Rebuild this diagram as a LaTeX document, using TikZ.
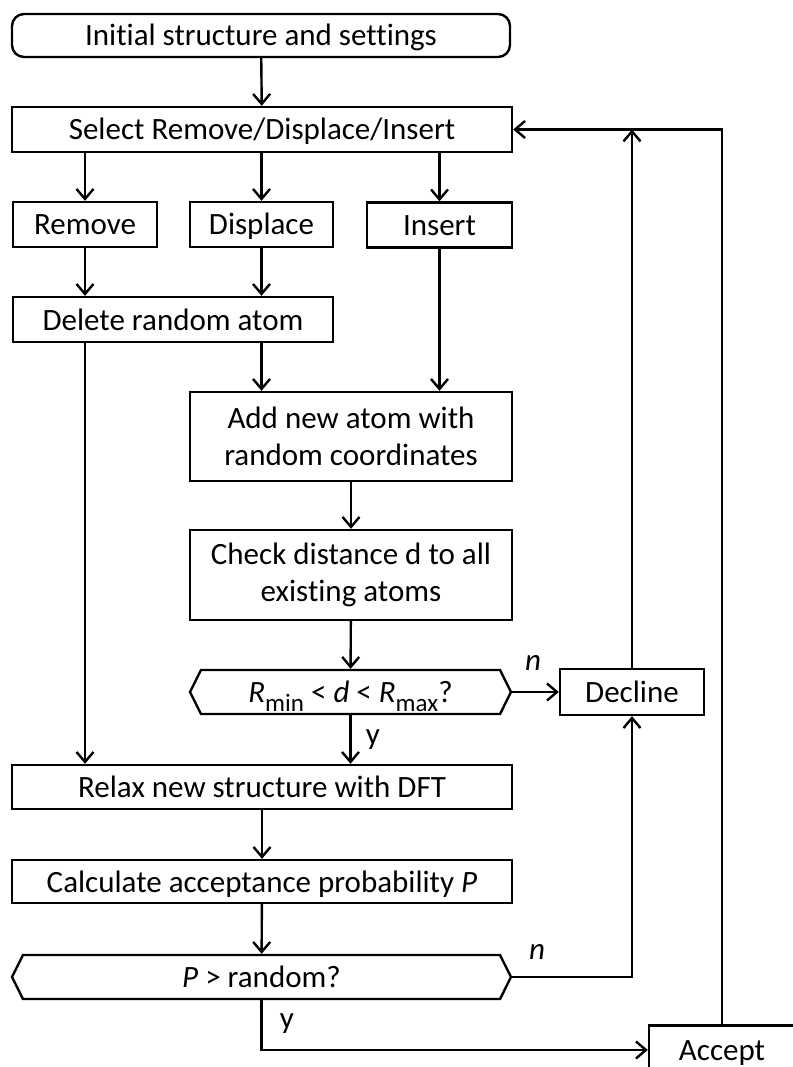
\documentclass[tikz,border=0pt]{standalone}
\usepackage{fontspec}
\setmainfont{Carlito}[Ligatures=NoCommon]
\usetikzlibrary{arrows.meta,positioning,shapes.symbols}

\newcommand{\lowsub}[1]{\raisebox{-9pt}{\fontsize{25}{25}\selectfont #1}}

\begin{document}
\begin{tikzpicture}[x=1pt,y=-1pt,
  box/.style={draw,rectangle,line width=2.4pt,inner sep=0pt,
    font=\fontsize{31}{37}\selectfont},
  onebox/.style={box,text height=26pt,text depth=5pt},
  twobox/.style={box,align=center},
  hexbox/.style={onebox,signal,signal to=west and east,signal pointer angle=127},
  lbl/.style={inner sep=0pt,font=\fontsize{31}{37}\selectfont},
  link/.style={line width=2.4pt},
  flow/.style={link,-{Straight Barb[length=10pt,width=17pt]}}]
\useasboundingbox (0,0) rectangle (792,1067);
% boxes
\node[onebox,rounded corners=12pt,minimum width=498pt,minimum height=43pt] (start) at (261,35.5) {Initial structure and settings};
\node[onebox,minimum width=500pt,minimum height=45pt] (select) at (262,129.5) {Select Remove/Displace/Insert};
\node[onebox,minimum width=144pt,minimum height=45pt] (remove) at (85,224.5) {Remove};
\node[onebox,minimum width=143pt,minimum height=45pt] (displace) at (261.5,224.5) {Displace};
\node[onebox,minimum width=145pt,minimum height=45pt] (insert) at (439.5,225) {Insert};
\node[onebox,minimum width=320pt,minimum height=45pt] (delete) at (173,319.5) {Delete random atom};
\node[twobox,minimum width=322pt,minimum height=89pt] (addatom) at (351,436.5) {Add new atom with\\random coordinates};
\node[twobox,minimum width=322pt,minimum height=90pt] (check) at (351,575) {Check distance d to all\\existing atoms};
\node[hexbox,minimum width=321pt,minimum height=44pt] (dist) at (350.5,692) {\textit{R}\lowsub{min} < \textit{d} < \textit{R}\lowsub{max}?};
\node[onebox,minimum width=144pt,minimum height=46pt] (decline) at (632,692) {Decline};
\node[onebox,minimum width=500pt,minimum height=44pt] (relax) at (262,787) {Relax new structure with DFT};
\node[onebox,minimum width=500pt,minimum height=43pt] (calc) at (262,881.5) {Calculate acceptance probability \textit{P}};
\node[hexbox,minimum width=499pt,minimum height=44pt] (prob) at (261.5,977) {\textit{P} > random?};
\node[onebox,minimum width=146pt,minimum height=49pt] (accept) at (722,1050) {Accept};
% labels
\node[lbl] (n1) at (533,663) {\textit{n}};
\node[lbl] (y1) at (373,740) {y};
\node[lbl] (n2) at (537,952) {\textit{n}};
\node[lbl] (y2) at (287,1024) {y};
% connectors
\draw[flow] (start) -- (select);
\draw[flow] (select.south -| remove) -- (remove);
\draw[flow] (select.south -| displace) -- (displace);
\draw[flow] (select.south -| insert) -- (insert);
\draw[flow] (remove) -- (delete.north -| remove);
\draw[flow] (displace) -- (delete.north -| displace);
\draw[flow] (delete.south -| displace) -- (addatom.north -| displace);
\draw[flow] (insert) -- (insert |- addatom.north);
\draw[flow] (delete.south -| remove) -- (relax.north -| remove);
\draw[flow] (addatom) -- (check);
\draw[flow] (check) -- (dist);
\draw[flow] (dist.east) -- (decline.west);
\draw[flow] (dist.south) -- (relax.north -| dist.south);
\draw[flow] (relax) -- (calc);
\draw[flow] (calc) -- (prob);
\draw[flow] (prob.east) -| (decline.south);
\draw[flow] (prob.south) |- (accept.west);
\draw[flow] (decline.north) -- (decline.north |- select.east);
\draw[flow] (accept.north) |- (select.east);
\end{tikzpicture}
\end{document}
